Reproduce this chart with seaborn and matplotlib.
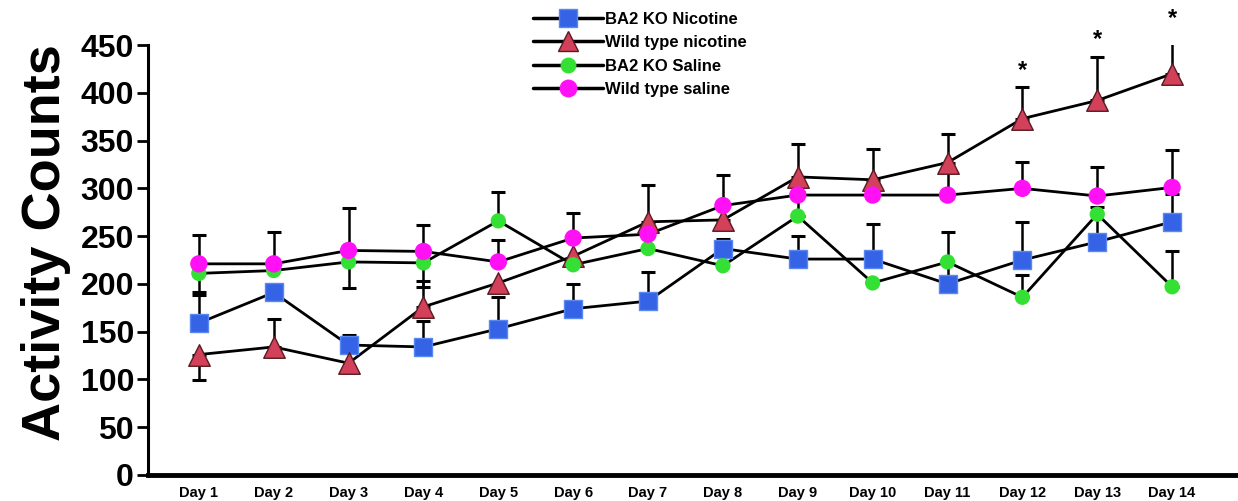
import matplotlib
matplotlib.use("Agg")
import matplotlib.pyplot as plt
from matplotlib.lines import Line2D
import seaborn as sns
import pandas as pd
import numpy as np

# ---- data ----
days = ["Day 1", "Day 2", "Day 3", "Day 4", "Day 5", "Day 6", "Day 7",
        "Day 8", "Day 9", "Day 10", "Day 11", "Day 12", "Day 13", "Day 14"]
series_names = ["BA2 KO Nicotine", "Wild type nicotine", "BA2 KO Saline", "Wild type saline"]

ko_nic = [159, 191, 136, 134, 153, 174, 182, 237, 226, 226, 200, 225, 244, 265]
ko_nic_up = [29, 0, 10, 27, 33, 26, 30, 10, 24, 37, 54, 40, 37, 29]
ko_nic_lo = [0, 0, 0, 0, 0, 0, 0, 0, 0, 0, 0, 0, 0, 0]

wt_nic = [126, 134, 117, 176, 201, 229, 265, 267, 312, 309, 327, 373, 392, 420]
wt_nic_up = [0, 29, 0, 27, 0, 0, 39, 47, 34, 32, 30, 33, 46, 40]
wt_nic_lo = [27, 0, 0, 0, 0, 0, 0, 0, 0, 0, 0, 0, 0, 0]

ko_sal = [211, 214, 223, 222, 266, 220, 237, 219, 271, 201, 223, 186, 273, 197]
ko_sal_up = [0, 0, 0, 0, 30, 0, 0, 0, 25, 0, 0, 23, 0, 37]
ko_sal_lo = [19, 0, 27, 25, 0, 0, 0, 0, 0, 0, 0, 0, 0, 0]

wt_sal = [221, 221, 235, 234, 223, 248, 252, 282, 293, 293, 293, 300, 292, 301]
wt_sal_up = [30, 33, 44, 28, 23, 26, 0, 0, 0, 0, 26, 28, 30, 39]
wt_sal_lo = [0, 0, 0, 0, 0, 0, 0, 0, 0, 0, 0, 0, 0, 0]

significant_days = ["Day 12", "Day 13", "Day 14"]

# ---- styling ----
colors = {"BA2 KO Nicotine": "#3563e6", "Wild type nicotine": "#d2405a",
          "BA2 KO Saline": "#33e033", "Wild type saline": "#ff10f5"}
markers = {"BA2 KO Nicotine": "s", "Wild type nicotine": "^",
           "BA2 KO Saline": "o", "Wild type saline": "o"}
msizes = {"BA2 KO Nicotine": 13.5, "Wild type nicotine": 15.5,
          "BA2 KO Saline": 11, "Wild type saline": 12.5}
edges = {"BA2 KO Nicotine": "#5a88f0", "Wild type nicotine": "#5a1a22",
         "BA2 KO Saline": "none", "Wild type saline": "none"}

vals = [ko_nic, wt_nic, ko_sal, wt_sal]
ups = [ko_nic_up, wt_nic_up, ko_sal_up, wt_sal_up]
los = [ko_nic_lo, wt_nic_lo, ko_sal_lo, wt_sal_lo]

rows = []
for name, v, u, l in zip(series_names, vals, ups, los):
    for i, d in enumerate(days):
        rows.append({"series": name, "pos": i + 1, "day": d, "value": v[i],
                     "up": u[i], "lo": l[i]})
df = pd.DataFrame(rows)

sns.set_theme(style="white")
plt.rcParams["font.family"] = ["Liberation Sans", "DejaVu Sans"]
plt.rcParams["font.weight"] = "bold"
plt.rcParams["text.color"] = "black"
plt.rcParams["axes.labelcolor"] = "black"
plt.rcParams["xtick.color"] = "black"
plt.rcParams["ytick.color"] = "black"

fig = plt.figure(figsize=(12.38, 5.01), dpi=100)
ax = fig.add_axes([0.1195, 0.052, 0.8805, 0.858])

for name in series_names:
    sub = df[df["series"] == name]
    sns.lineplot(data=sub, x="pos", y="value", color="black", lw=2.0,
                 ax=ax, zorder=2, legend=False, errorbar=None)
    up = sub["up"].to_numpy()
    lo = sub["lo"].to_numpy()
    for arr, sign in ((up, 1), (lo, -1)):
        m = arr > 0
        if m.any():
            yerr = np.zeros((2, m.sum()))
            if sign > 0:
                yerr[1] = arr[m]
            else:
                yerr[0] = arr[m]
            ax.errorbar(sub["pos"].to_numpy()[m], sub["value"].to_numpy()[m],
                        yerr=yerr, fmt="none", ecolor="black", elinewidth=1.8,
                        capsize=5, capthick=2.2, zorder=3)

for name in series_names:
    sub = df[df["series"] == name]
    sns.scatterplot(data=sub, x="pos", y="value", marker=markers[name],
                    s=msizes[name] ** 2, color=colors[name],
                    edgecolor=edges[name], linewidth=1.0, ax=ax, zorder=4,
                    legend=False)

# significance stars
wt = df[df["series"] == "Wild type nicotine"]
for d in significant_days:
    r = wt[wt["day"] == d].iloc[0]
    ax.annotate("*", xy=(r["pos"], r["value"] + r["up"]), xytext=(0, 4),
                textcoords="offset points", ha="center", va="bottom",
                fontsize=17, fontweight="bold", color="black",
                annotation_clip=False)

ax.set_xlim(0.32, 14.88)
ax.set_ylim(0, 450)
ax.set_xticks(range(1, len(days) + 1))
ax.set_xticklabels(days, fontsize=10.5, fontweight="bold", color="black")
ax.set_yticks(range(0, 451, 50))
ax.set_yticklabels([str(t) for t in range(0, 451, 50)], fontsize=23,
                   fontweight="bold", color="black")
ax.tick_params(axis="y", direction="out", length=8, width=2, left=True, pad=2,
               colors="black")
ax.tick_params(axis="x", length=0, pad=8)
ax.set_xlabel("")
ax.set_ylabel("Activity Counts", fontsize=39, fontweight="bold", color="black")
ax.yaxis.set_label_coords(-0.071, 0.54)

for s in ("top", "right"):
    ax.spines[s].set_visible(False)
ax.spines["left"].set_linewidth(2.2)
ax.spines["bottom"].set_linewidth(3.5)
ax.spines["left"].set_color("black")
ax.spines["bottom"].set_color("black")

handles = [Line2D([0], [0], color="black", lw=2.5, marker=markers[n],
                  markersize=msizes[n] * 0.95, markerfacecolor=colors[n],
                  markeredgecolor=edges[n] if edges[n] != "none" else colors[n])
           for n in series_names]
leg = fig.legend(handles, series_names, loc="upper left",
                 bbox_to_anchor=(0.428, 0.983), frameon=False,
                 handlelength=4.2, handletextpad=0.1, labelspacing=0.5,
                 borderaxespad=0, borderpad=0.2,
                 prop={"weight": "bold", "size": 12})
for t in leg.get_texts():
    t.set_color("black")

fig.savefig("out.png", dpi=100)
